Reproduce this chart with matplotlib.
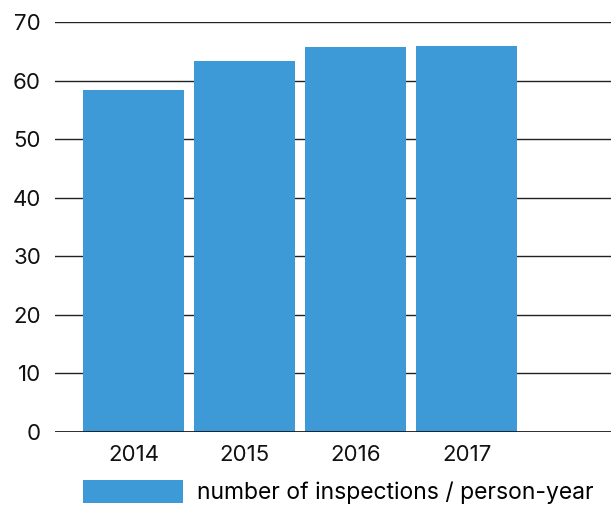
import matplotlib
matplotlib.use("Agg")
import matplotlib.pyplot as plt

years = ["2014", "2015", "2016", "2017"]
inspections = [58.4, 63.3, 65.7, 65.9]
label = "number of inspections / person-year"

plt.rcParams['font.family'] = ['Inter', 'DejaVu Sans']

fig = plt.figure(figsize=(6.11, 5.11), dpi=100)
ax = fig.add_axes([55 / 611, 79 / 511, 556 / 611, 410 / 511])

x = range(len(years))
ax.bar(x, inspections, width=0.91, color='#3d9ad6', label=label, zorder=3)
ax.axhline(0, color='#111111', linewidth=1.2, zorder=4)

ax.set_ylim(0, 70)
ax.set_xlim(-0.707, 4.3)
ax.set_yticks(range(0, 71, 10))
ax.set_xticks(list(x))
ax.set_xticklabels(years)
ax.grid(axis='y', color='#222222', linewidth=1, zorder=0)
ax.tick_params(length=0, labelsize=16, labelcolor='#111111')
ax.tick_params(axis='y', pad=10)
ax.tick_params(axis='x', pad=9)
for s in ax.spines.values():
    s.set_visible(False)

leg = fig.legend(loc='lower left', bbox_to_anchor=(62 / 611, -14 / 511), frameon=False,
                 fontsize=16.5, handlelength=4.4, handleheight=1.15, handletextpad=0.6)

fig.savefig("out.png", dpi=100)
